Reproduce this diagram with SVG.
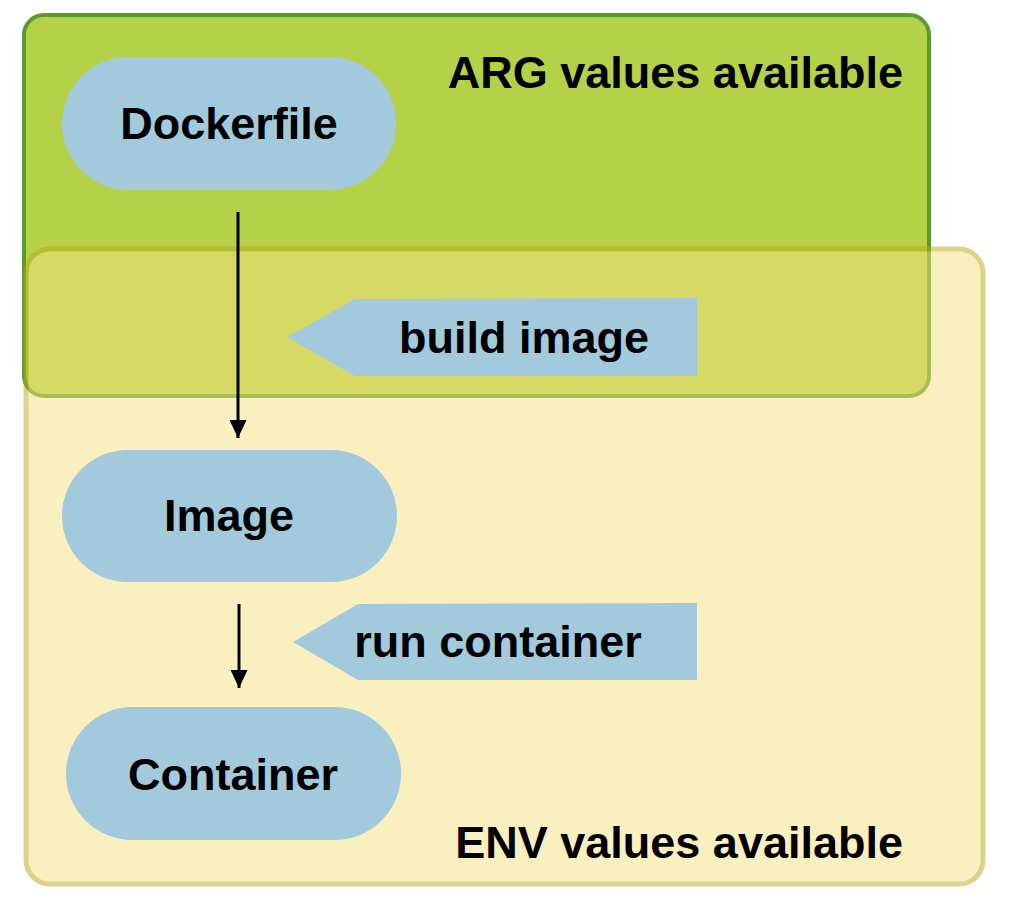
<svg xmlns="http://www.w3.org/2000/svg" width="1024" height="906" viewBox="0 0 1024 906">
<style>
.t{font-family:"Liberation Sans",Arial,sans-serif;font-weight:bold;font-size:45px;fill:#000}
.pill{fill:#a2cadc}
.lab{fill:#a2cadc}
.conn{stroke:#000;stroke-width:3;fill:none}
</style>
<defs>
<marker id="ah" viewBox="0 0 18 17" refX="18" refY="8.5" markerWidth="18" markerHeight="17" markerUnits="userSpaceOnUse" orient="auto">
<path d="M0,0 L18,8.5 L0,17 Z" fill="#000"/>
</marker>
</defs>
<rect width="1024" height="906" fill="#fff"/>
<g id="arg-region">
<rect x="24" y="15" width="905" height="381" rx="20" fill="#b5d148" stroke="#5a9a2e" stroke-width="4"/>
<text class="t" x="903" y="88" text-anchor="end">ARG values available</text>
</g>
<g id="env-region" opacity="0.5">
<rect x="26" y="249" width="957" height="635" rx="24" fill="#f7e181" stroke="#b9a81a" stroke-width="5"/>
</g>
<text class="t" x="903" y="858" text-anchor="end">ENV values available</text>
<g id="dockerfile">
<rect class="pill" x="62" y="57" width="334" height="133" rx="66.5"/>
<text class="t" x="229" y="139" text-anchor="middle">Dockerfile</text>
</g>
<g id="image">
<rect class="pill" x="62" y="450" width="335" height="132" rx="66"/>
<text class="t" x="229" y="531" text-anchor="middle">Image</text>
</g>
<g id="container">
<rect class="pill" x="66" y="707" width="335" height="133" rx="66.5"/>
<text class="t" x="233" y="790" text-anchor="middle">Container</text>
</g>
<g id="build-image">
<polygon class="lab" points="287,337 355,299 697,298 697,376 355,376"/>
<text class="t" x="524" y="353" text-anchor="middle">build image</text>
</g>
<g id="run-container">
<polygon class="lab" points="293,642 358,604 697,603 697,680 358,680"/>
<text class="t" x="498" y="657" text-anchor="middle">run container</text>
</g>
<g id="connectors">
<line class="conn" x1="238" y1="212" x2="238" y2="438" marker-end="url(#ah)"/>
<line class="conn" x1="239" y1="604" x2="239" y2="688" marker-end="url(#ah)"/>
</g>
</svg>
